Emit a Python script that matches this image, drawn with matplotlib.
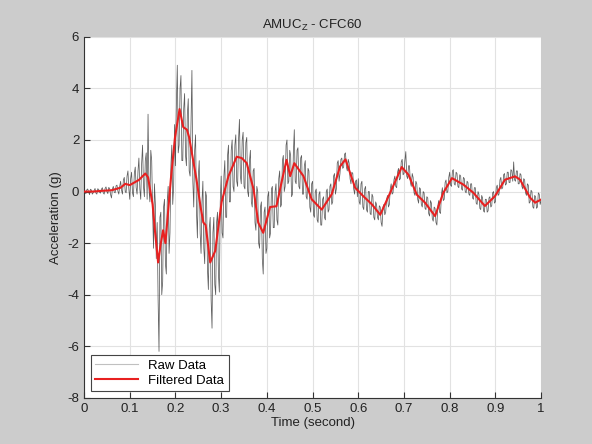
import numpy as np
import matplotlib
matplotlib.use("Agg")
import matplotlib.pyplot as plt
from matplotlib.lines import Line2D

# ---- data ----
filt_t = [0.0, 0.02, 0.04, 0.06, 0.08, 0.09, 0.10, 0.12, 0.134, 0.14, 0.15, 0.155,
          0.162, 0.168, 0.173, 0.178, 0.19, 0.199, 0.209, 0.217, 0.225, 0.23, 0.246,
          0.255, 0.261, 0.266, 0.276, 0.287, 0.301, 0.316, 0.334, 0.345, 0.356, 0.371,
          0.381, 0.392, 0.407, 0.421, 0.432, 0.443, 0.451, 0.46, 0.48, 0.498, 0.52,
          0.542, 0.56, 0.572, 0.593, 0.611, 0.63, 0.648, 0.673, 0.695, 0.71, 0.728,
          0.746, 0.768, 0.786, 0.805, 0.83, 0.852, 0.877, 0.899, 0.921, 0.943, 0.954,
          0.976, 0.987, 1.0]
filt_y = [0.0, 0.0, 0.03, 0.05, 0.15, 0.3, 0.25, 0.45, 0.7, 0.55, -0.5, -1.5,
          -2.75, -2.0, -1.5, -2.0, 0.5, 2.1, 3.2, 2.5, 2.4, 2.1, 0.46,
          -0.6, -1.2, -1.3, -2.75, -2.3, -0.4, 0.6, 1.35, 1.3, 1.1, 0.08,
          -1.2, -1.6, -0.6, -0.57, 0.35, 1.23, 0.6, 1.1, 0.6, -0.3, -0.7,
          -0.1, 0.97, 1.25, 0.15, -0.18, -0.5, -0.9, 0.08, 0.95, 0.65, -0.12,
          -0.43, -0.95, -0.05, 0.52, 0.27, -0.05, -0.56, -0.18, 0.46, 0.59, 0.46,
          -0.24, -0.43, -0.31]

raw_dt = 0.002
raw_y = [
    0.05, -0.04, -0.08, 0.07, 0.10, -0.02, -0.12, 0.09, 0.06, -0.10, -0.05, 0.04, 0.12, -0.06, -0.10, 0.11, 0.08, -0.03, -0.06, 0.09,
    0.15, -0.05, -0.10, 0.12, 0.18, 0.00, -0.08, 0.16, 0.12, -0.12, -0.25, 0.10, 0.20, -0.02, -0.05, 0.22, 0.25, 0.02, -0.10, 0.20,
    0.40, 0.05, -0.10, 0.45, 0.55, 0.00, -0.05, 0.60, 0.80, 0.10, -0.30, 0.50, 0.75, -0.05, -0.20, 0.70, 0.95, 0.15, -0.10, 0.80,
    1.30, 0.10, -0.30, 1.10, 1.80, 0.20, -0.20, 1.20, 1.50, -0.30, 3.00, 0.10, -0.40, 1.60, 1.20, -0.80, -2.20, 0.30, -0.50, -2.60,
    -1.20, -4.20, -6.20, -1.00, -0.80, -4.00, -3.50, -0.60, -0.30, -2.80, -3.20, -0.40, 0.20, -2.40, -1.60, 1.00, 1.80, -0.50, 0.20, 2.60,
    1.00, 3.40, 4.90, 1.50, 1.80, 4.00, 4.50, 1.20, 1.20, 3.20, 3.80, 1.40, 1.00, 3.00, 3.60, 0.80, 0.60, 2.60, 4.70, 0.40,
    -0.60, 1.60, 2.20, -0.80, -1.80, 0.60, 1.20, -1.60, -2.40, -0.40, 0.40, -2.20, -2.80, 0.00, -0.20, -3.00, -3.80, -1.40, -1.00, -4.20,
    -5.30, -1.60, -1.00, -3.60, -4.00, -1.20, -0.80, -3.20, -3.90, -0.40, 0.60, -1.60, -1.80, 0.60, 1.20, -1.00, -1.00, 1.40, 1.80, -0.40,
    -0.40, 1.60, 2.00, 0.20, 0.00, 1.80, 2.20, 0.40, 0.20, 2.00, 2.80, 0.60, 0.30, 2.00, 2.30, 0.20, 0.10, 1.90, 2.10, 0.00,
    -0.20, 1.20, 1.60, -0.40, -0.60, 0.80, 0.90, -1.20, -1.50, 0.20, 0.00, -2.00, -2.20, -0.60, -0.40, -2.60, -3.20, -0.80, -0.60, -2.40,
    -2.20, -0.20, 0.00, -1.80, -1.60, 0.10, 0.20, -1.40, -1.40, 0.00, 0.30, -1.10, -1.30, 0.50, 0.80, -0.60, -0.50, 1.20, 1.40, 0.00,
    0.20, 1.80, 2.00, 0.30, 0.40, 1.60, 1.40, -0.20, -0.10, 1.50, 2.40, 0.40, 0.30, 1.60, 1.70, 0.20, 0.10, 1.30, 1.40, -0.10,
    -0.10, 1.00, 1.20, -0.20, -0.30, 0.90, 0.80, -0.60, -0.80, 0.30, 0.40, -0.90, -1.00, 0.00, 0.10, -1.10, -1.20, -0.10, 0.00, -1.30,
    -1.30, -0.30, -0.20, -1.00, -1.10, 0.00, 0.10, -0.80, -0.70, 0.20, 0.30, -0.50, -0.40, 0.60, 0.70, -0.10, 0.10, 1.10, 1.20, 0.40,
    0.70, 1.25, 1.30, 0.90, 0.95, 1.45, 1.50, 0.95, 0.80, 1.25, 1.10, 0.50, 0.30, 0.75, 0.70, 0.10, -0.10, 0.40, 0.45, -0.20,
    0.50, -0.40, -0.50, 0.30, 0.40, -0.60, -0.70, 0.10, 0.20, -0.70, -0.80, 0.00, 0.00, -0.85, -0.90, -0.10, -0.20, -1.00, -1.10, -0.40,
    -0.50, -1.00, -1.10, -0.55, -0.60, -1.20, -1.35, -0.60, -0.50, -0.90, -0.80, -0.30, -0.15, -0.60, -0.50, 0.10, 0.30, -0.10, -0.05, 0.45,
    0.60, 0.20, 0.15, 0.75, 0.90, 0.45, 0.50, 1.15, 1.25, 0.65, 0.70, 1.20, 1.55, 0.60, 0.50, 1.00, 1.00, 0.35, 0.20, 0.70,
    0.55, -0.05, -0.15, 0.40, 0.30, -0.30, -0.45, 0.15, 0.10, -0.50, -0.60, 0.00, -0.05, -0.65, -0.70, -0.20, -0.25, -0.85, -0.95, -0.35,
    -0.45, -1.05, -1.15, -0.60, -0.65, -1.20, -1.30, -0.55, -0.35, -0.80, -0.85, -0.10, 0.15, -0.35, -0.30, 0.35, 0.45, -0.05, 0.00, 0.55,
    0.75, 0.25, 0.20, 0.80, 0.85, 0.30, 0.25, 0.75, 0.70, 0.20, 0.15, 0.65, 0.60, 0.10, 0.05, 0.55, 0.50, 0.00, -0.05, 0.40,
    0.35, -0.10, -0.15, 0.30, 0.30, -0.25, -0.30, 0.15, 0.15, -0.45, -0.50, 0.00, -0.10, -0.65, -0.70, -0.15, -0.25, -0.75, -0.80, -0.30,
    -0.30, -0.80, -0.75, -0.25, -0.20, -0.60, -0.55, -0.05, 0.00, -0.45, -0.40, 0.15, 0.25, -0.15, -0.10, 0.45, 0.55, 0.10, 0.15, 0.65,
    0.70, 0.25, 0.30, 0.75, 0.75, 0.35, 0.35, 0.85, 0.80, 0.40, 1.15, 0.45, 0.40, 0.80, 0.80, 0.30, 0.30, 0.70, 0.65, 0.20,
    0.10, 0.50, 0.45, -0.05, -0.15, 0.30, 0.25, -0.45, -0.40, 0.05, 0.00, -0.60, -0.65, -0.15, -0.20, -0.65, -0.60, -0.05, -0.10, -0.50,
    -0.35,
]
raw_t = np.arange(len(raw_y)) * raw_dt

x_ticks = [0, 0.1, 0.2, 0.3, 0.4, 0.5, 0.6, 0.7, 0.8, 0.9, 1]
x_ticklabels = ["0", "0.1", "0.2", "0.3", "0.4", "0.5", "0.6", "0.7", "0.8", "0.9", "1"]
y_ticks = [-8, -6, -4, -2, 0, 2, 4, 6]

# ---- figure ----
plt.rcParams['font.family'] = ['Liberation Sans', 'DejaVu Sans']
plt.rcParams['axes.unicode_minus'] = False
plt.rcParams['mathtext.default'] = 'regular'
fig = plt.figure(figsize=(5.92, 4.44), dpi=100, facecolor='#cccccc')
ax = fig.add_axes([0.142, 0.104, 0.772, 0.813])
ax.set_facecolor('white')

ax.plot(raw_t, raw_y, color='0.15', lw=0.55, alpha=0.75, zorder=2)
ax.plot(filt_t, filt_y, color='#e82020', lw=1.5, zorder=3)

ax.set_xlim(0, 1)
ax.set_ylim(-8, 6)
ax.set_xticks(x_ticks)
ax.set_xticklabels(x_ticklabels)
ax.set_yticks(y_ticks)
ax.grid(True, color='#e2e2e2', lw=0.8)
ax.set_axisbelow(True)
for s in ['top', 'right']:
    ax.spines[s].set_visible(False)
for s in ['left', 'bottom']:
    ax.spines[s].set_color('#333333')
    ax.spines[s].set_linewidth(0.8)
ax.tick_params(direction='in', length=4, width=0.8, color='#333333',
               labelsize=9.5, labelcolor='#222222')

ax.set_title('AMUC$_{Z}$ - CFC60', fontsize=9.5, color='#222222', pad=6)
ax.set_xlabel('Time (second)', fontsize=9.5, color='#222222', labelpad=2)
ax.set_ylabel('Acceleration (g)', fontsize=9.5, color='#222222', labelpad=4)

handles = [Line2D([], [], color='#c0c0c0', lw=0.8),
           Line2D([], [], color='#e82020', lw=1.5)]
leg = ax.legend(handles, ['Raw Data', 'Filtered Data'], loc='lower left',
                fontsize=9.5, fancybox=False, framealpha=1, edgecolor='#444444',
                borderaxespad=0.5, handlelength=3.2, borderpad=0.35, labelspacing=0.2)
leg.get_frame().set_linewidth(0.8)

fig.savefig('out.png', dpi=100, facecolor=fig.get_facecolor())
